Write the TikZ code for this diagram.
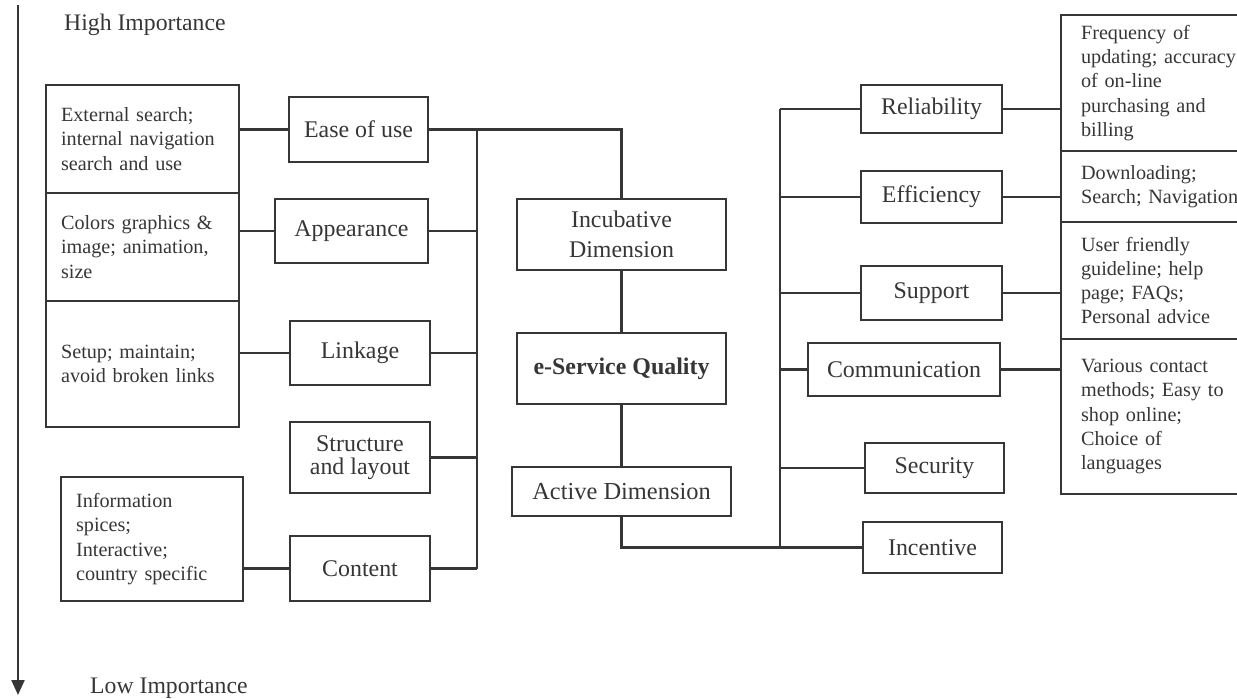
\documentclass[tikz,border=0pt]{standalone}
\usepackage{fontspec}
\setmainfont{Liberation Serif}
\usetikzlibrary{arrows.meta}
\definecolor{ink}{HTML}{363636}
\tikzset{
    dim/.style={draw=ink, line width=1.2pt, text=ink, align=center, inner sep=0pt,
        font=\fontsize{13.6}{15}\selectfont},
    note/.style={draw=ink, line width=1.2pt, text=ink, anchor=north west, align=left,
        inner ysep=0pt, font=\fontsize{11.5}{13.8}\selectfont},
    link/.style={draw=ink, line width=1.3pt}
}
\begin{document}
\begin{tikzpicture}[x=0.02cm, y=-0.02cm]
                   
                        \useasboundingbox (0,0) rectangle (1237,698);
                        \coordinate (top) at (18,5);
                        \coordinate (bottom) at (18,695);
                        \coordinate (lbus) at (477,0);
                        \coordinate (rbus) at (780,0);
                        \draw[link,-{Triangle[length=0.3cm,width=0.26cm]}] (top)--(bottom);
                        \node[text=ink, anchor=west, font=\fontsize{13.5}{15}\selectfont] (high) at (58,25) {High Importance};
                        \node[text=ink, anchor=west, font=\fontsize{13.5}{15}\selectfont] (low) at (84,688) {Low Importance};
                       
                        % left side details
                        \node[note, minimum width=3.86cm, minimum height=2.16cm, inner xsep=0.3cm, text width=3.26cm] (d1) at (45,84) {External search;\\ internal navigation\\ search and use};
                        \node[note, minimum width=3.86cm, minimum height=2.16cm, inner xsep=0.3cm, text width=3.26cm] (d2) at (45,192) {Colors graphics \&\\ image; animation,\\ size};
                        \node[note, minimum width=3.86cm, minimum height=2.52cm, inner xsep=0.3cm, text width=3.26cm] (d3) at (45,300) {Setup; maintain;\\ avoid broken links};
                        \node[note, minimum width=3.64cm, minimum height=2.48cm, inner xsep=0.3cm, text width=3.04cm] (d4) at (60,476) {Information\\ spices;\\ Interactive;\\ country specific};
                       
                        \node[dim, minimum width=2.78cm, minimum height=1.3cm] (ease) at (358.5,129.5) {Ease of use};
                        \node[dim, minimum width=3.06cm, minimum height=1.28cm] (appear) at (351.5,231) {Appearance};
                        \node[dim, minimum width=2.8cm, minimum height=1.28cm] (linkage) at (360,353) {Linkage};
                        \node[dim, minimum width=2.8cm, minimum height=1.42cm, font=\fontsize{13.6}{13.2}\selectfont] (struct) at (360,457.5) {Structure\\ and layout};
                        \node[dim, minimum width=2.8cm, minimum height=1.3cm] (content) at (360,568.5) {Content};
                       
                        % centre column
                        \node[dim, minimum width=4.18cm, minimum height=1.42cm, font=\fontsize{13.6}{17}\selectfont] (incub) at (621.5,234.5) {Incubative\\ Dimension};
                        \node[dim, minimum width=4.18cm, minimum height=1.42cm, font=\bfseries\fontsize{13.6}{15}\selectfont] (esq) at (621.5,368.5) {e-Service Quality};
                        \node[dim, minimum width=4.38cm, minimum height=0.98cm, font=\fontsize{13.9}{15}\selectfont] (active) at (621.5,491.5) {Active Dimension};
                       
                        % right side
                        \node[dim, minimum width=2.82cm, minimum height=0.96cm] (rel) at (931.5,109) {Reliability};
                        \node[dim, minimum width=2.82cm, minimum height=1.04cm] (eff) at (931.5,197) {Efficiency};
                        \node[dim, minimum width=2.82cm, minimum height=1.08cm] (supp) at (931.5,293) {Support};
                        \node[dim, minimum width=3.84cm, minimum height=1.06cm] (comm) at (904,369.5) {Communication};
                        \node[dim, minimum width=2.78cm, minimum height=1.0cm] (secu) at (934.5,468) {Security};
                        \node[dim, minimum width=2.78cm, minimum height=1.02cm] (incent) at (932.5,547.5) {Incentive};
                       
                        \node[note, minimum width=4.2cm, minimum height=2.72cm, inner xsep=0.4cm, text width=3.4cm] (r1) at (1060,14) {Frequency of\\ updating; accuracy\\ of on-line\\ purchasing and\\ billing};
                        \node[note, minimum width=4.2cm, minimum height=1.42cm, inner xsep=0.4cm, text width=3.4cm] (r2) at (1060,150) {Downloading;\\ Search; Navigation};
                        \node[note, minimum width=4.2cm, minimum height=2.34cm, inner xsep=0.4cm, text width=3.4cm] (r3) at (1060,221) {User friendly\\ guideline; help\\ page; FAQs;\\ Personal advice};
                        \node[note, minimum width=4.2cm, minimum height=3.1cm, inner xsep=0.4cm, text width=3.4cm] (r4) at (1060,338) {Various contact\\ methods; Easy to\\ shop online;\\ Choice of\\ languages};
                       
                        % connectors
                        \draw[link] (ease.west)--(ease.west -| d1.east);
                        \draw[link] (appear.west)--(appear.west -| d2.east);
                        \draw[link] (linkage.west)--(linkage.west -| d3.east);
                        \draw[link] (content.west)--(content.west -| d4.east);
                        \draw[link] (ease.east -| lbus)--(content.east -| lbus);
                        \draw[link] (ease.east)-|(incub.north);
                        \foreach \n in {appear,linkage,struct,content}
                            \draw[link] (\n.east)--(\n.east -| lbus);
                        \draw[link] (incub)--(esq);
                        \draw[link] (esq)--(active);
                        \draw[link] (active.south)|-(incent.west);
                        \draw[link] (rel.west -| rbus)--(incent.west -| rbus);
                        \foreach \n in {rel,eff,supp,comm,secu}
                            \draw[link] (\n.west)--(\n.west -| rbus);
                        \draw[link] (rel.east)--(rel.east -| r1.west);
                        \draw[link] (eff.east)--(eff.east -| r2.west);
                        \draw[link] (supp.east)--(supp.east -| r3.west);
                        \draw[link] (comm.east)--(comm.east -| r4.west);
                           
                      \end{tikzpicture}
\end{document}
